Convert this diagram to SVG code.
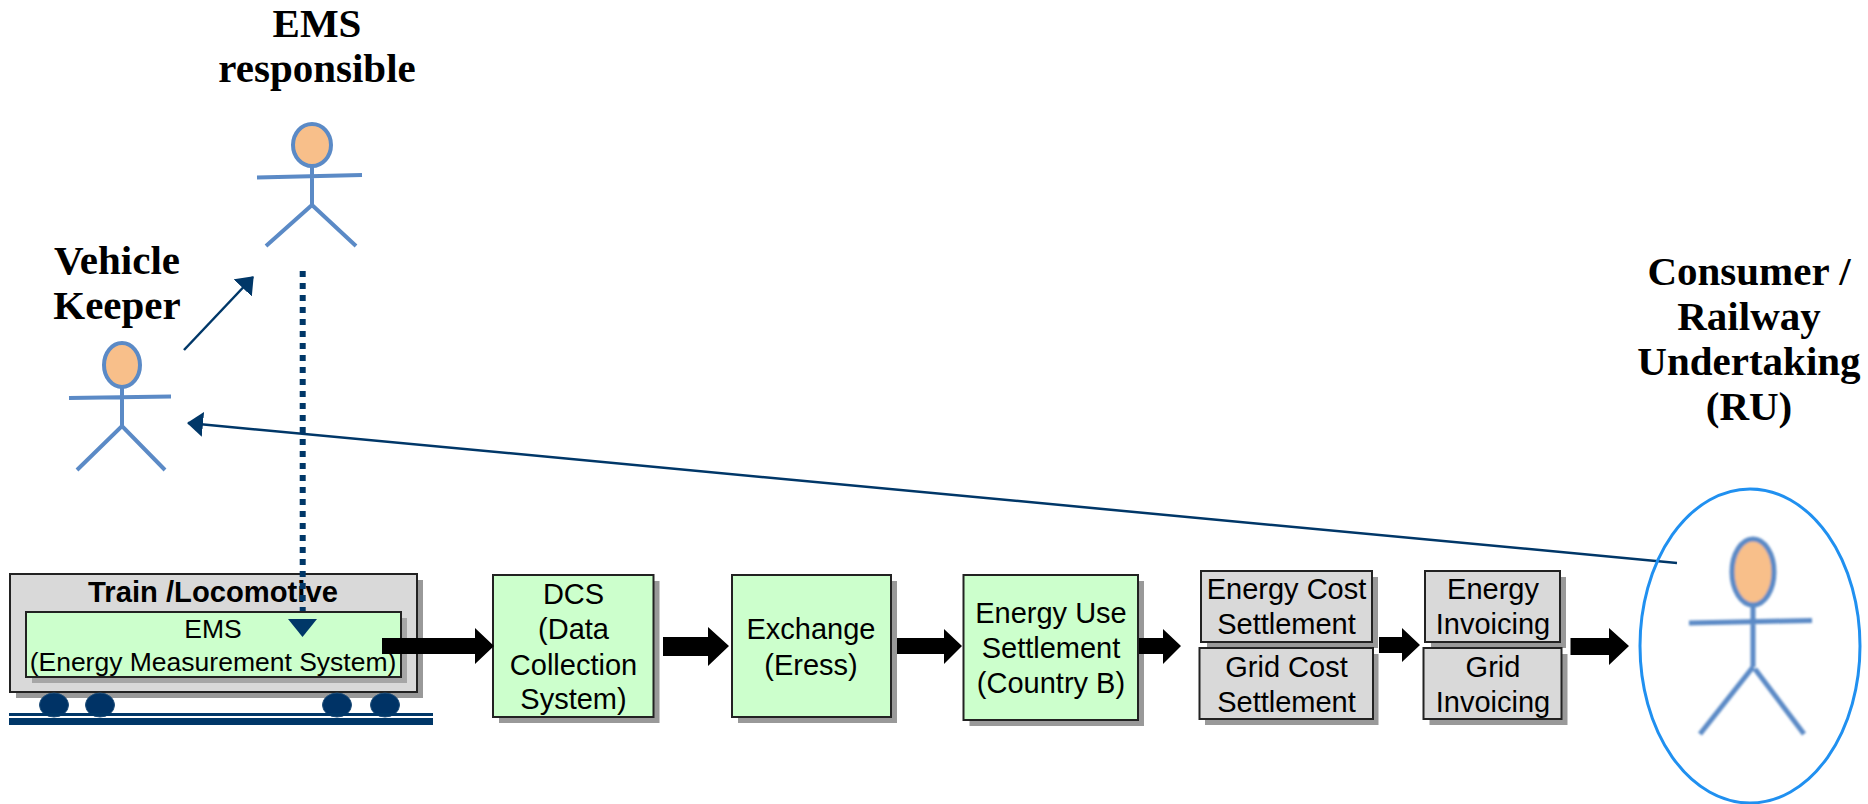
<svg xmlns="http://www.w3.org/2000/svg" width="1868" height="804" viewBox="0 0 1868 804">
<style>
.ttl{font-family:"Liberation Serif",serif;font-weight:bold;font-size:41px;fill:#000;text-anchor:middle}
.lbl{font-family:"Liberation Sans",Arial,sans-serif;font-size:29px;fill:#000;text-anchor:middle}
.box{stroke:#222;stroke-width:2}
.green{fill:#CCFFCC}.grey{fill:#D9D9D9}
.shadow{fill:#999}
.limb{fill:none;stroke:#5B8AC6;stroke-width:4;stroke-linecap:butt}
.head{fill:#F8BF8A;stroke:#5B8AC6;stroke-width:4}
.wheel{fill:#003366;stroke:#1F4E79;stroke-width:1}
.big{fill:#000}
.thin{fill:none;stroke:#003768;stroke-width:2.5}
</style>
<defs>
<marker id="ah" markerUnits="userSpaceOnUse" markerWidth="18" markerHeight="26" refX="15" refY="12.500" orient="auto"><path d="M0 0L16 12.500L0 25Z" fill="#003768"/></marker>
<filter id="soft" x="-10%" y="-10%" width="120%" height="120%"><feGaussianBlur stdDeviation="0.9"/></filter>
</defs>
<g id="connectors">
<path class="thin" d="M184 350L253 277" marker-end="url(#ah)"/>
<path class="thin" d="M1677 563L188 423" marker-end="url(#ah)"/>
</g>
<g id="actor-ems"><text class="ttl" x="317" y="37">EMS</text><text class="ttl" x="317" y="82">responsible</text>
<ellipse class="head" cx="312" cy="145" rx="19" ry="21"/><path class="limb" d="M257 177.500L362 175M312 166V205M266 246L312 205L356 246"/></g>
<g id="actor-keeper"><text class="ttl" x="117" y="274">Vehicle</text><text class="ttl" x="117" y="319">Keeper</text>
<ellipse class="head" cx="122" cy="365" rx="18" ry="22"/><path class="limb" d="M69 398L171 396.500M122 387V426M77 470L122 426L165 470"/></g>
<g id="train">
<rect class="shadow" x="16" y="580" width="407" height="118"/>
<rect class="box grey" x="10" y="574" width="407" height="118"/>
<ellipse class="wheel" cx="54" cy="705" rx="14.500" ry="12"/><ellipse class="wheel" cx="100" cy="705" rx="14.500" ry="12"/><ellipse class="wheel" cx="337" cy="705" rx="14.500" ry="12"/><ellipse class="wheel" cx="385" cy="705" rx="14.500" ry="12"/>
<rect x="9" y="713" width="424" height="3" fill="#003768"/><rect x="9" y="718" width="424" height="7" fill="#003768"/>
<text x="213" y="602" style="font-family:'Liberation Sans',Arial,sans-serif;font-weight:bold;font-size:29.200px;text-anchor:middle">Train /Locomotive</text>
</g>
<g id="ems">
<rect class="shadow" x="32" y="618" width="375" height="65" fill-opacity="0.8"/>
<rect class="box green" x="26" y="612" width="375" height="65"/>
<text class="lbl" x="213" y="638" style="font-size:26.500px">EMS</text><text class="lbl" x="213" y="671" style="font-size:26.500px">(Energy Measurement System)</text>
</g>
<g id="dcs"><rect class="shadow" x="499" y="581" width="160.500" height="142"/><rect class="box green" x="493" y="575" width="160.500" height="142"/>
<text class="lbl" x="573.500" y="604">DCS</text><text class="lbl" x="573.500" y="639">(Data</text><text class="lbl" x="573.500" y="675">Collection</text><text class="lbl" x="573.500" y="709">System)</text></g>
<g id="exchange"><rect class="shadow" x="738" y="581" width="159" height="142"/><rect class="box green" x="732" y="575" width="159" height="142"/>
<text class="lbl" x="811" y="639">Exchange</text><text class="lbl" x="811" y="675">(Eress)</text></g>
<g id="energy-use"><rect class="shadow" x="969.500" y="581" width="174.500" height="145"/><rect class="box green" x="963.500" y="575" width="174.500" height="145"/>
<text class="lbl" x="1051" y="623">Energy Use</text><text class="lbl" x="1051" y="658">Settlement</text><text class="lbl" x="1051" y="693">(Country B)</text></g>
<g id="energy-cost"><rect class="shadow" x="1207" y="577" width="171" height="71"/><rect class="box grey" x="1201" y="571" width="171" height="71"/>
<text class="lbl" x="1286.500" y="599">Energy Cost</text><text class="lbl" x="1286.500" y="634">Settlement</text></g>
<g id="grid-cost"><rect class="shadow" x="1205" y="654" width="173.500" height="71"/><rect class="box grey" x="1199.500" y="648" width="173.500" height="71"/>
<text class="lbl" x="1286.500" y="677">Grid Cost</text><text class="lbl" x="1286.500" y="712">Settlement</text></g>
<g id="energy-invoicing"><rect class="shadow" x="1431" y="577" width="135" height="71"/><rect class="box grey" x="1425" y="571" width="135" height="71"/>
<text class="lbl" x="1493" y="599">Energy</text><text class="lbl" x="1493" y="634">Invoicing</text></g>
<g id="grid-invoicing"><rect class="shadow" x="1429.500" y="654" width="138" height="71"/><rect class="box grey" x="1423.500" y="648" width="138" height="71"/>
<text class="lbl" x="1493" y="677">Grid</text><text class="lbl" x="1493" y="712">Invoicing</text></g>
<g id="actor-consumer">
<text class="ttl" x="1749" y="285">Consumer /</text><text class="ttl" x="1749" y="330">Railway</text><text class="ttl" x="1749" y="375">Undertaking</text><text class="ttl" x="1749" y="420">(RU)</text>
<ellipse cx="1750" cy="646" rx="110" ry="157" fill="none" stroke="#2090F0" stroke-width="3"/>
<g filter="url(#soft)"><ellipse class="head" cx="1753" cy="572" rx="21" ry="33" style="stroke-width:5"/><path class="limb" style="stroke-width:5" d="M1689 623L1812 620.500M1753 605V667M1700 734L1753 667M1755 669L1804 734"/></g>
</g>
<g id="flow-arrows">
<path class="big" d="M382 638H475V628L494 646L475 664V654H382Z"/>
<path class="big" d="M663 637H708V627L729 646L708 666V656H663Z"/>
<path class="big" d="M897 638H944V629L962 646L944 664V654H897Z"/>
<path class="big" d="M1139 638H1163V629L1181 646L1163 664V654H1139Z"/>
<path class="big" d="M1379 637H1402V628L1420 645L1402 662V653H1379Z"/>
<path class="big" d="M1570.500 638H1609V628L1629 646L1609 665V655H1570.500Z"/>
</g>
<g id="ems-link">
<path d="M302.700 271V611" fill="none" stroke="#003768" stroke-width="6" stroke-dasharray="6 6"/>
<path d="M288 619H317L302.500 637Z" fill="#003768"/>
</g>
</svg>
